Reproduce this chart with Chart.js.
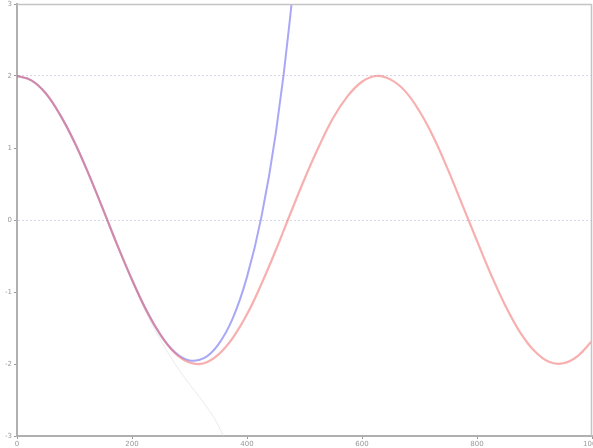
<!DOCTYPE html>
<html>
<head>
<meta charset="utf-8">
<script src="https://cdn.jsdelivr.net/npm/chart.js@4"></script>
<style>
  body { margin: 0; background: #fff; }
</style>
</head>
<body>
<canvas id="waveChart" width="593" height="448"></canvas>
<script>
// x positions, every 25 units
var xsRed = [0, 25, 50, 75, 100, 125, 150, 175, 200, 225, 250, 275, 300, 325, 350, 375, 400, 425, 450, 475, 500,
             525, 550, 575, 600, 625, 650, 675, 700, 725, 750, 775, 800, 825, 850, 875, 900, 925, 950, 975, 1000];
var redValues = [2.00, 1.94, 1.76, 1.46, 1.08, 0.63, 0.14, -0.36, -0.83, -1.26, -1.60, -1.85, -1.98, -1.99, -1.87, -1.64, -1.31, -0.89, -0.42, 0.08, 0.57,
                 1.02, 1.42, 1.72, 1.92, 2.00, 1.95, 1.79, 1.51, 1.14, 0.69, 0.20, -0.29, -0.77, -1.20, -1.56, -1.82, -1.97, -1.99, -1.89, -1.68];

var xsBlue = [0, 25, 50, 75, 100, 125, 150, 175, 200, 225, 250, 275, 300, 325, 350, 375, 400, 425, 450, 475, 500];
var blueValues = [2.00, 1.94, 1.76, 1.46, 1.08, 0.63, 0.14, -0.36, -0.83, -1.25, -1.60, -1.84, -1.95, -1.92, -1.73, -1.37, -0.79, 0.04, 1.20, 2.81, 5.06];

// the very faint line falling off below the trough
var xsFaint = [200, 225, 250, 275, 300, 325, 350, 375];
var faintValues = [-0.84, -1.29, -1.67, -2.00, -2.28, -2.54, -2.85, -3.31];

var xTicks = [0, 200, 400, 600, 800, 1000];
var yTicks = [-3, -2, -1, 0, 1, 2, 3];
var gridAt = [0, 2];

function pts(xs, ys) {
    return xs.map(function (x, i) { return { x: x, y: ys[i] }; });
}

// gnuplot-like frame on top and right
var frame = {
    id: 'frame',
    afterDatasetsDraw: function (chart) {
        var a = chart.chartArea, ctx = chart.ctx;
        ctx.save();
        ctx.strokeStyle = '#c4c4c4';
        ctx.lineWidth = 1.5;
        ctx.beginPath();
        ctx.moveTo(a.left, a.top + 0.5);
        ctx.lineTo(a.right - 0.5, a.top + 0.5);
        ctx.lineTo(a.right - 0.5, a.bottom);
        ctx.stroke();
        ctx.restore();
    }
};

var ctx = document.getElementById('waveChart').getContext('2d');
new Chart(ctx, {
    type: 'line',
    data: {
        datasets: [
            {
                data: pts(xsFaint, faintValues),
                borderColor: 'rgba(215,215,215,0.5)',
                borderWidth: 1,
                pointRadius: 0,
                tension: 0.4,
                order: 3
            },
            {
                data: pts(xsBlue, blueValues),
                borderColor: 'rgba(110,110,240,0.6)',
                borderWidth: 2,
                pointRadius: 0,
                tension: 0.4,
                order: 2
            },
            {
                data: pts(xsRed, redValues),
                borderColor: 'rgba(240,110,110,0.55)',
                borderWidth: 2.2,
                pointRadius: 0,
                tension: 0.4,
                order: 1
            }
        ]
    },
    options: {
        responsive: false,
        animation: false,
        layout: { padding: { top: 4, right: 1, left: 0, bottom: 0 } },
        plugins: { legend: { display: false }, tooltip: { enabled: false } },
        scales: {
            x: {
                type: 'linear',
                min: 0,
                max: 1000,
                afterBuildTicks: function (s) { s.ticks = xTicks.map(function (v) { return { value: v }; }); },
                afterFit: function (s) { s.height = 12; s.paddingLeft = 0; s.paddingRight = 0; },
                grid: { display: true, color: 'rgba(0,0,0,0)', tickColor: '#999', tickLength: 3, drawOnChartArea: false },
                border: { color: '#b0b0b0', width: 2 },
                ticks: {
                    color: '#999', font: { family: 'DejaVu Sans', size: 7 }, padding: 1, maxRotation: 0,
                    callback: function (v) { return String(v); }
                }
            },
            y: {
                min: -3,
                max: 3,
                afterBuildTicks: function (s) { s.ticks = yTicks.map(function (v) { return { value: v }; }); },
                afterFit: function (s) { s.width = 17; s.paddingTop = 0; s.paddingBottom = 0; },
                grid: {
                    color: function (c) { return gridAt.indexOf(c.tick.value) >= 0 ? '#d8d8e4' : 'rgba(0,0,0,0)'; },
                    tickColor: '#999',
                    tickLength: 3,
                    lineWidth: 1
                },
                border: { color: '#b0b0b0', width: 2, dash: [2, 2] },
                ticks: { color: '#999', font: { family: 'DejaVu Sans', size: 7 }, padding: 2 }
            }
        }
    },
    plugins: [frame]
});
</script>
</body>
</html>
